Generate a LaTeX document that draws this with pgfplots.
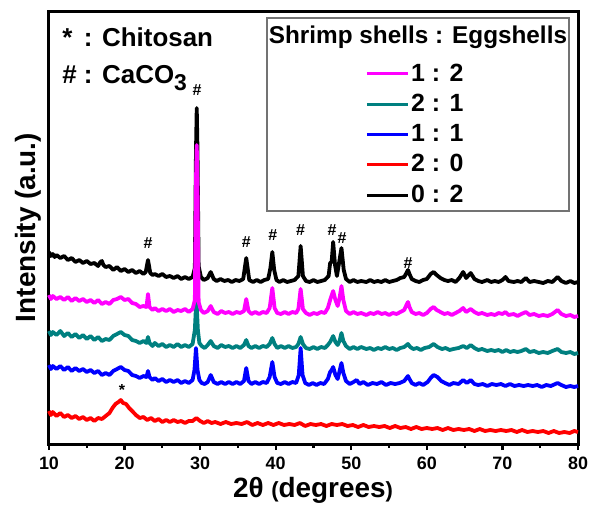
\documentclass[border=0pt]{standalone}
\usepackage{fontspec}
\setmainfont{Liberation Sans}
\usepackage{pgfplots}
\pgfplotsset{compat=1.18}
\definecolor{XMag}{RGB}{255,0,255}
\definecolor{XTeal}{RGB}{0,128,128}
\definecolor{XBlue}{RGB}{0,0,255}
\definecolor{XRed}{RGB}{255,0,0}
\begin{document}
\begin{tikzpicture}
\begin{axis}[
  at={(0,0)}, anchor=south west, scale only axis,
  width=264.5bp, height=216.5bp,
  xmin=10, xmax=80, ymin=11, ymax=444, y dir=reverse,
  clip=false,
  xtick={10,20,...,80}, minor x tick num=1, ytick=\empty,
  xtick pos=left, xticklabel pos=left, tick align=outside,
  major tick length=3bp, minor tick length=2bp,
  every tick/.style={black, line width=1.1bp},
  axis line style={line width=1.5bp},
  /pgf/number format/assume math mode=true,
  ticklabel style={font=\bfseries\fontsize{9}{10}\selectfont},
  xlabel={2θ {\fontsize{11}{12}\selectfont(}degrees{\fontsize{11}{12}\selectfont)}},
  xlabel style={at={(axis description cs:0.499,-0.106)}, anchor=center, font=\bfseries\fontsize{14}{16}\selectfont},
  ylabel={Intensity (a.u.)},
  ylabel style={at={(axis description cs:-0.0397,0.5)}, anchor=center, font=\bfseries\fontsize{14}{16}\selectfont},
  legend image code/.code={\draw[#1, line width=1.4bp] (0bp,0bp) -- (20.5bp,0bp);},
  legend cell align=left,
  legend style={draw=none, fill=none, at={(axis description cs:0.5974,0.7148)}, anchor=west,
    inner sep=0pt, row sep=3bp, nodes={inner sep=1bp},
    font=\bfseries\fontsize{12.5}{14}\selectfont},
  every axis plot/.append style={line width=1.9bp, line join=round},
]
% 0:2
\addplot[black, forget plot] coordinates {
(10,252) (10.25,256) (10.5,254) (10.75,257) (11,255) (11.5,258) (12,256) (12.5,260) (13,258) (13.5,262)
(14,260) (14.5,263) (15,261) (15.5,264) (16,263) (16.5,266) (16.8,262) (17.0,261) (17.2,265) (17.5,267)
(18,266) (18.5,270) (19,267) (19.5,271) (20,269) (20.5,272) (21,270) (21.5,273) (22,271) (22.5,274)
(22.8,272) (23.1,260) (23.4,273) (23.7,275) (24,274) (24.5,276) (25,274) (25.5,277) (26,276) (26.5,278)
(27,276) (27.5,279) (28,277) (28.5,279) (29.0,277) (29.3,268) (29.45,150) (29.55,108) (29.65,150) (29.8,266)
(30.1,277) (30.5,280) (31.0,278) (31.4,272) (31.8,279) (32.2,281) (32.7,279) (33.2,281) (33.7,280) (34.2,282)
(34.7,280) (35.2,281) (35.7,279) (36.1,258) (36.5,280) (37,282) (37.5,280) (38,282) (38.5,280) (39.0,279)
(39.3,268) (39.55,252) (39.8,270) (40.1,280) (40.5,282) (41,280) (41.5,282) (42,281) (42.5,280) (43.0,276)
(43.3,246) (43.6,276) (44,281) (44.5,282) (45,280) (45.5,282) (46,281) (46.5,280) (47.0,276) (47.2,263)
(47.4,262) (47.6,242) (47.85,265) (48.1,276) (48.4,262) (48.7,248) (49.0,270) (49.3,279) (49.8,282) (50.3,280)
(50.8,282) (51.3,281) (52,282) (52.5,280) (53,282) (53.5,281) (54,282) (54.5,280) (55,282) (55.5,281)
(56,280) (56.5,278) (57.0,277) (57.3,273) (57.5,270) (57.7,274) (58,279) (58.5,281) (59,282) (59.5,280)
(60.0,279) (60.5,274) (60.9,272) (61.3,275) (61.8,278) (62.3,280) (62.8,281) (63.3,280) (63.8,282) (64.3,278)
(64.8,272) (65.2,278) (65.8,273) (66.3,279) (66.8,281) (67.3,282) (68,280) (68.5,282) (69,281) (69.5,282)
(70,280) (70.4,277) (70.8,281) (71.5,282) (72,281) (72.5,282) (73.1,278) (73.6,282) (74.2,281) (74.8,282)
(75.4,283) (76,281) (76.6,282) (77.3,277) (77.8,281) (78.4,283) (79,281) (79.5,283) (80,282)
};
% 2:0
\addplot[XRed, forget plot] coordinates {
(10,411) (10.25,415) (10.5,412) (11,416) (11.5,413) (12,417) (12.5,415) (13,418) (13.5,416) (14,419)
(14.5,417) (15,420) (15.5,418) (16,421) (16.5,418) (17,419) (17.5,416) (18,413) (18.4,408) (18.8,404)
(19.2,402) (19.5,400) (19.8,403) (20.2,404) (20.6,408) (21,411) (21.5,415) (22,418) (22.5,417) (23,420)
(23.5,418) (24,421) (24.5,419) (25,422) (25.5,420) (26,422) (26.5,420) (27,422) (27.5,421) (28,423)
(28.5,421) (29,421) (29.5,418) (30,421) (30.5,423) (31,421) (31.5,423) (32,422) (32.7,424) (33.4,422)
(34.1,424) (34.8,423) (35.5,424) (36.2,422) (36.9,425) (37.6,423) (38.3,425) (39,423) (39.7,425) (40.4,423)
(41.1,425) (41.8,424) (42.5,425) (43.2,423) (43.9,426) (44.6,424) (45.3,425) (46,424) (46.7,426) (47.4,424)
(48.1,425) (48.8,424) (49.5,426) (50.2,425) (50.9,427) (51.6,425) (52.3,427) (53,426) (53.7,427) (54.4,426)
(55.1,428) (55.8,426) (56.5,428) (57.2,427) (57.9,429) (58.6,427) (59.3,429) (60,428) (60.7,429) (61.4,428)
(62.1,430) (62.8,428) (63.5,430) (64.2,429) (64.9,430) (65.6,429) (66.3,431) (67,429) (67.7,431) (68.4,430)
(69.1,431) (69.8,430) (70.5,431) (71.2,430) (71.9,432) (72.6,430) (73.3,432) (74,431) (74.7,432) (75.4,431)
(76.1,433) (76.8,431) (77.5,433) (78.2,432) (78.9,433) (79.5,431) (80,432)
};
% 2:1
\addplot[XTeal, forget plot] coordinates {
(10,331) (10.25,335) (10.5,332) (11,335) (11.5,331) (12,336) (12.5,333) (13,337) (13.5,334) (14,338)
(14.5,335) (15,339) (15.5,336) (16,340) (16.5,337) (17,341) (17.5,339) (18,340) (18.5,336) (19,334)
(19.5,332) (20,335) (20.5,336) (21,340) (21.5,341) (22,343) (22.5,341) (22.9,343) (23.1,337) (23.3,343)
(23.7,346) (24,343) (24.5,346) (25,344) (25.5,347) (26,345) (26.5,347) (27,344) (27.5,347) (28,345)
(28.5,347) (29.0,344) (29.3,330) (29.5,298) (29.7,330) (29.9,343) (30.2,346) (30.6,348) (31,345) (31.4,341)
(31.8,346) (32.3,348) (32.8,345) (33.3,347) (33.8,346) (34.3,348) (34.8,346) (35.3,348) (35.8,345) (36.1,340)
(36.4,346) (36.8,348) (37.3,346) (37.8,348) (38.3,346) (38.8,347) (39.2,344) (39.55,338) (39.85,344) (40.2,348)
(40.7,346) (41.2,348) (41.7,346) (42.2,348) (42.7,347) (43.0,344) (43.3,337) (43.6,344) (44,348) (44.5,349)
(45,347) (45.5,349) (46,347) (46.5,348) (46.9,345) (47.2,342) (47.6,336) (47.9,342) (48.2,345) (48.45,341)
(48.7,333) (48.95,341) (49.3,346) (49.8,349) (50.3,347) (50.8,349) (51.3,347) (52,349) (52.5,348) (53,350)
(53.5,348) (54,349) (54.5,347) (55,349) (55.5,348) (56,350) (56.5,348) (57.0,347) (57.5,344) (57.8,347)
(58.2,349) (58.7,348) (59.2,350) (59.7,348) (60.3,347) (60.9,344) (61.4,347) (62,349) (62.5,348) (63,350)
(63.5,349) (64.2,348) (64.8,346) (65.3,348) (65.8,345) (66.3,348) (66.8,350) (67.3,349) (68,351) (68.5,350)
(69,351) (69.5,350) (70,352) (70.5,350) (71,352) (71.5,351) (72,352) (72.5,351) (73.1,349) (73.6,352)
(74.2,351) (74.8,353) (75.4,352) (76,353) (76.6,351) (77.3,349) (77.8,352) (78.4,353) (79,352) (79.5,354)
(80,353)
};
% 1:1
\addplot[XBlue, forget plot] coordinates {
(10,365) (10.25,369) (10.5,366) (11,369) (11.5,366) (12,370) (12.5,367) (13,371) (13.5,368) (14,371)
(14.5,369) (15,372) (15.5,370) (16,373) (16.5,371) (17,375) (17.5,373) (18,375) (18.5,371) (19,369)
(19.5,367) (20,370) (20.5,371) (21,375) (21.5,376) (22,378) (22.5,376) (22.9,377) (23.1,371) (23.3,377)
(23.7,380) (24,378) (24.5,381) (25,379) (25.5,382) (26,380) (26.5,382) (27,380) (27.5,383) (28,381)
(28.5,383) (29.0,380) (29.25,370) (29.45,348) (29.65,370) (29.9,380) (30.2,383) (30.6,384) (31,382) (31.4,375)
(31.8,382) (32.3,384) (32.8,382) (33.3,384) (33.8,382) (34.3,384) (34.8,382) (35.3,384) (35.8,381) (36.1,368)
(36.4,381) (36.8,384) (37.3,382) (37.8,384) (38.3,382) (38.8,383) (39.2,377) (39.55,362) (39.85,377) (40.2,383)
(40.7,384) (41.2,382) (41.7,384) (42.2,382) (42.7,383) (43.05,375) (43.3,348) (43.55,375) (43.9,383) (44.4,385)
(44.9,383) (45.4,385) (45.9,383) (46.4,384) (46.9,379) (47.2,372) (47.4,370) (47.6,367) (47.9,375) (48.2,379)
(48.45,371) (48.7,363) (48.95,373) (49.3,381) (49.8,384) (50.3,382) (50.7,380) (51.1,384) (51.6,382) (52.2,385)
(52.8,383) (53.4,384) (54,382) (54.6,385) (55.2,383) (55.8,384) (56.4,383) (57.0,381) (57.3,378) (57.5,376)
(57.7,379) (58,383) (58.5,385) (59,383) (59.5,385) (60.1,382) (60.5,378) (60.9,375) (61.4,377) (61.9,381)
(62.4,383) (63,385) (63.5,383) (64.2,384) (64.8,380) (65.3,383) (65.8,380) (66.3,384) (66.8,385) (67.4,384)
(68,386) (68.6,384) (69.2,385) (69.8,384) (70.4,386) (71,384) (71.6,386) (72.2,385) (72.8,386) (73.4,385)
(74,386) (74.6,385) (75.2,387) (75.8,385) (76.4,386) (77,384) (77.3,383) (77.8,385) (78.4,387) (79,386)
(79.5,387) (80,386)
};
% 1:2
\addplot[XMag, forget plot] coordinates {
(10,295) (10.25,299) (10.5,296) (11,299) (11.5,297) (12,300) (12.5,297) (13,301) (13.5,298) (14,301)
(14.5,299) (15,302) (15.5,300) (16,303) (16.5,300) (17,304) (17.5,302) (18,304) (18.5,300) (19,299)
(19.5,297) (20,300) (20.5,299) (21,303) (21.5,304) (22,307) (22.5,306) (22.9,307) (23.1,294) (23.3,307)
(23.7,310) (24,308) (24.5,311) (25,309) (25.5,311) (26,309) (26.5,312) (27,310) (27.5,311) (28,309)
(28.5,312) (29.0,309) (29.3,300) (29.45,180) (29.55,145) (29.65,185) (29.8,302) (30.1,310) (30.5,313) (31,311)
(31.4,306) (31.8,312) (32.3,314) (32.8,311) (33.3,313) (33.8,312) (34.3,314) (34.8,312) (35.3,313) (35.8,311)
(36.1,299) (36.4,311) (36.8,314) (37.3,312) (37.8,314) (38.3,312) (38.8,313) (39.2,308) (39.55,288) (39.85,308)
(40.2,313) (40.7,314) (41.2,312) (41.7,314) (42.2,312) (42.7,313) (43.0,309) (43.3,289) (43.6,309) (44,313)
(44.5,315) (45,313) (45.5,314) (46,312) (46.5,313) (46.9,308) (47.2,300) (47.6,291) (47.9,300) (48.2,306)
(48.45,298) (48.7,286) (48.95,300) (49.3,311) (49.8,314) (50.3,312) (50.8,314) (51.3,313) (52,315) (52.5,313)
(53,314) (53.5,312) (54,314) (54.5,313) (55,315) (55.5,313) (56,314) (56.5,312) (57.0,310) (57.3,305)
(57.5,302) (57.7,307) (58,312) (58.5,314) (59,313) (59.5,315) (60,313) (60.5,309) (60.9,307) (61.3,310)
(61.8,312) (62.3,314) (62.8,313) (63.3,315) (63.8,313) (64.3,311) (64.8,308) (65.2,312) (65.8,309) (66.3,312)
(66.8,314) (67.3,313) (68,315) (68.5,314) (69,315) (69.5,313) (70,314) (70.4,312) (70.8,315) (71.5,314)
(72,316) (72.5,314) (73.1,312) (73.6,315) (74.2,314) (74.8,316) (75.4,315) (76,316) (76.6,314) (77.3,310)
(77.8,314) (78.4,316) (79,315) (79.5,317) (80,316)
};
\addlegendimage{XMag}\addlegendentry{1 : 2}
\addlegendimage{XTeal}\addlegendentry{2 : 1}
\addlegendimage{XBlue}\addlegendentry{1 : 1}
\addlegendimage{XRed}\addlegendentry{2 : 0}
\addlegendimage{black}\addlegendentry{0 : 2}
% legend frame and title
\draw[black!55, line width=0.6bp] (axis description cs:0.412,0.984) rectangle (axis description cs:0.983,0.538);
\node[font=\bfseries\fontsize{12.2}{14}\selectfont] at (axis description cs:0.6975,0.940) {Shrimp shells : Eggshells};
% key
\node[anchor=base west, inner sep=0pt, font=\bfseries\fontsize{13}{15}\selectfont] at (axis description cs:0.0246,0.9169) {*\, : Chitosan};
\node[anchor=base west, inner sep=0pt, font=\bfseries\fontsize{13}{15}\selectfont] at (axis description cs:0.0246,0.8337) {\# : CaCO\raisebox{-0.3em}{\fontsize{11.5}{12}\selectfont 3}};
% peak markers
\begin{scope}[every node/.style={font=\bfseries\fontsize{8}{9}\selectfont}]
\node at (axis cs:29.58,90) {\#};
\node at (axis cs:23.1,243) {\#};
\node at (axis cs:36.1,242) {\#};
\node at (axis cs:39.6,235) {\#};
\node at (axis cs:43.3,230) {\#};
\node at (axis cs:47.45,230) {\#};
\node at (axis cs:48.77,238) {\#};
\node at (axis cs:57.5,263) {\#};
\node at (axis cs:19.66,390) {*};
\end{scope}
\end{axis}
\pgfresetboundingbox
\path (-24.5bp,-31bp) rectangle (270.5bp,222bp);
\end{tikzpicture}
\end{document}
